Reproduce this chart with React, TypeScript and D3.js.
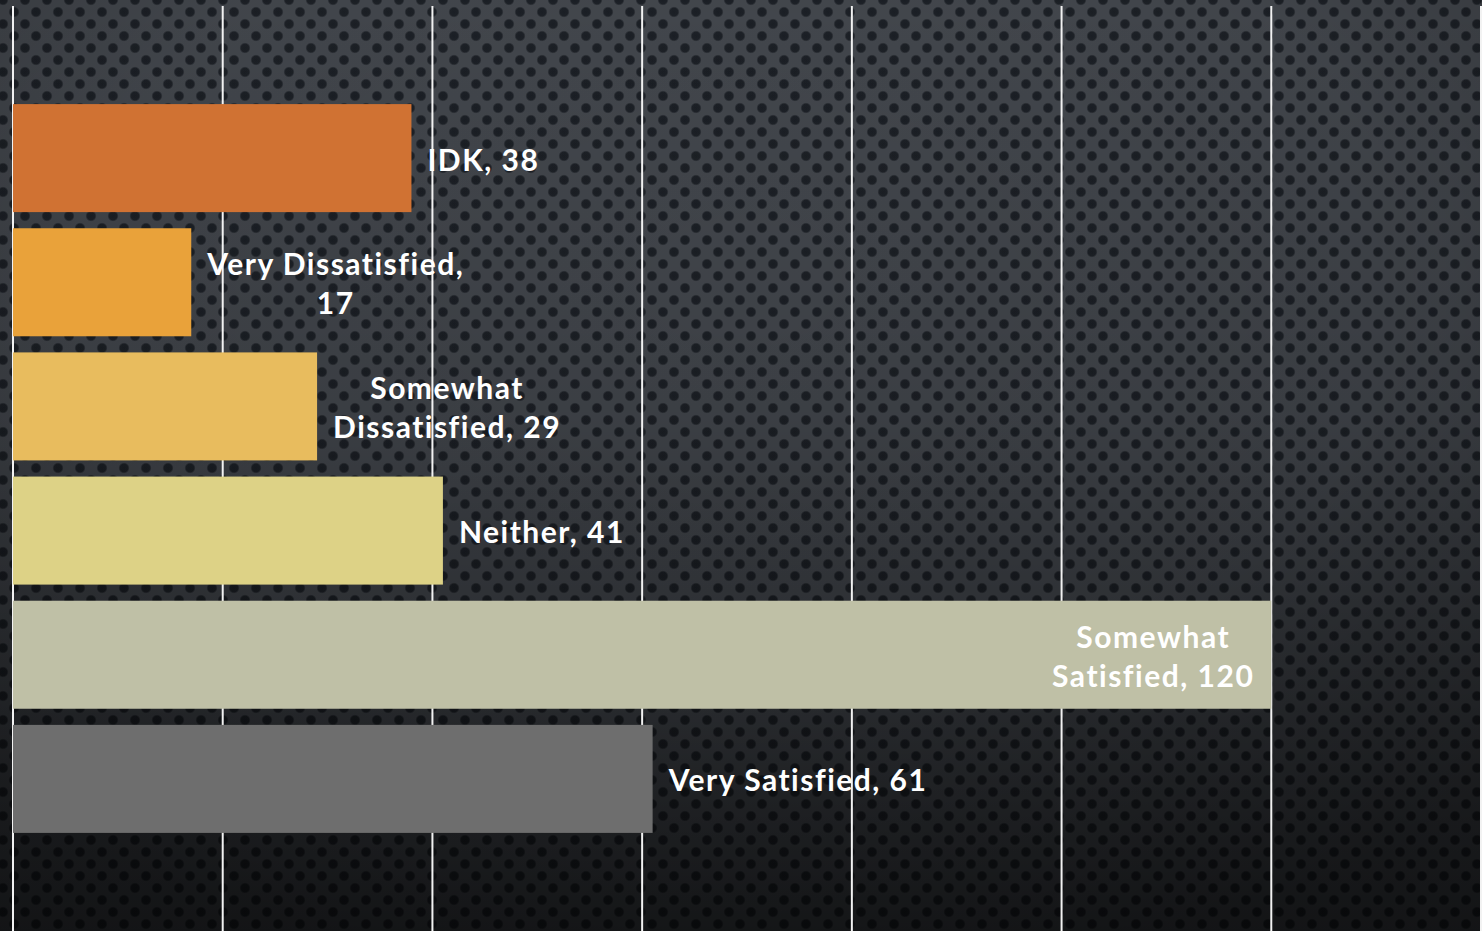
import React, { useEffect, useRef } from "react";
import * as d3 from "d3";

const categories = ["IDK", "Very Dissatisfied", "Somewhat Dissatisfied", "Neither", "Somewhat Satisfied", "Very Satisfied"];
const values = [38, 17, 29, 41, 120, 61];
const colors = ["#D07233", "#E9A23A", "#E8BC5E", "#DDD286", "#BFC0A6", "#6E6E6E"];
const labelLines = [
  ["IDK, 38"],
  ["Very Dissatisfied,", "17"],
  ["Somewhat", "Dissatisfied, 29"],
  ["Neither, 41"],
  ["Somewhat", "Satisfied, 120"],
  ["Very Satisfied, 61"],
];
const labelInside = [false, false, false, false, true, false];
const xTicks = [0, 20, 40, 60, 80, 100, 120, 140];

const W = 1482;
const H = 931;

export default function App() {
  const ref = useRef<SVGSVGElement>(null);
  useEffect(() => {
    const svg = d3.select(ref.current);
    svg.selectAll("*").remove();
    const defs = svg.append("defs");

    const dg = defs.append("radialGradient").attr("id", "dotg");
    dg.append("stop").attr("offset", "0%").attr("stop-color", "#1b1f25");
    dg.append("stop").attr("offset", "70%").attr("stop-color", "#1e2228");
    dg.append("stop").attr("offset", "100%").attr("stop-color", "#1e2228").attr("stop-opacity", 0);

    const pat = defs.append("pattern").attr("id", "carbon").attr("patternUnits", "userSpaceOnUse")
      .attr("x", 0).attr("y", 0).attr("width", 22).attr("height", 24);
    pat.append("rect").attr("width", 22).attr("height", 24).attr("fill", "#44484e");
    [[14, 12], [3, 0], [3, 24], [25, 0], [25, 24], [-8, 12]].forEach(([cx, cy]) => {
      pat.append("circle").attr("cx", cx).attr("cy", cy).attr("r", 5.6).attr("fill", "url(#dotg)");
    });

    const lg = defs.append("linearGradient").attr("id", "shade").attr("x1", 0).attr("y1", 0).attr("x2", 0).attr("y2", 1);
    lg.append("stop").attr("offset", "0%").attr("stop-color", "#000").attr("stop-opacity", 0.0);
    lg.append("stop").attr("offset", "45%").attr("stop-color", "#000").attr("stop-opacity", 0.12);
    lg.append("stop").attr("offset", "100%").attr("stop-color", "#000").attr("stop-opacity", 0.6);

    const rg = defs.append("radialGradient").attr("id", "vig").attr("cx", "50%").attr("cy", "30%").attr("r", "75%");
    rg.append("stop").attr("offset", "0%").attr("stop-color", "#000").attr("stop-opacity", 0);
    rg.append("stop").attr("offset", "60%").attr("stop-color", "#000").attr("stop-opacity", 0.05);
    rg.append("stop").attr("offset", "100%").attr("stop-color", "#000").attr("stop-opacity", 0.3);

    svg.append("rect").attr("width", W).attr("height", H).attr("fill", "url(#carbon)");
    svg.append("rect").attr("width", W).attr("height", H).attr("fill", "url(#shade)");
    svg.append("rect").attr("width", W).attr("height", H).attr("fill", "url(#vig)");

    const x = d3.scaleLinear().domain([0, 140]).range([13, 1481]);
    const y = d3.scaleBand<string>().domain(categories).range([6, 931]).paddingInner(0.13).paddingOuter(0.79);

    svg.append("g").selectAll("line").data(xTicks).join("line")
      .attr("x1", (d) => x(d)).attr("x2", (d) => x(d))
      .attr("y1", 6).attr("y2", H)
      .attr("stroke", "#f2f2f2").attr("stroke-width", 2);

    svg.append("g").selectAll("rect").data(categories).join("rect")
      .attr("x", x(0))
      .attr("y", (d) => y(d)!)
      .attr("width", (_, i) => x(values[i]) - x(0))
      .attr("height", y.bandwidth())
      .attr("fill", (_, i) => colors[i]);

    const lh = 39;
    const lab = svg.append("g").attr("font-family", "Lato, 'Open Sans', sans-serif").attr("font-weight", 700)
      .attr("font-size", 30).attr("letter-spacing", 1.5).attr("fill", "#ffffff");
    categories.forEach((c, i) => {
      const lines = labelLines[i];
      const cy = y(c)! + y.bandwidth() / 2;
      const t = lab.append("text").attr("text-anchor", "middle");
      const spans = lines.map((ln, k) =>
        t.append("tspan").attr("y", cy - ((lines.length - 1) * lh) / 2 + 12.5 + k * lh).text(ln)
      );
      const widths = spans.map((s) => (s.node() as SVGTSpanElement).getComputedTextLength());
      const bw = Math.max(...widths);
      const end = x(values[i]);
      const left = labelInside[i] ? end - 17 - bw : end + 16;
      spans.forEach((s) => s.attr("x", left + bw / 2));
    });
  }, []);
  return (
    <svg ref={ref} width={W} height={H} style={{ position: "absolute", left: 0, top: 0, display: "block" }} />
  );
}
